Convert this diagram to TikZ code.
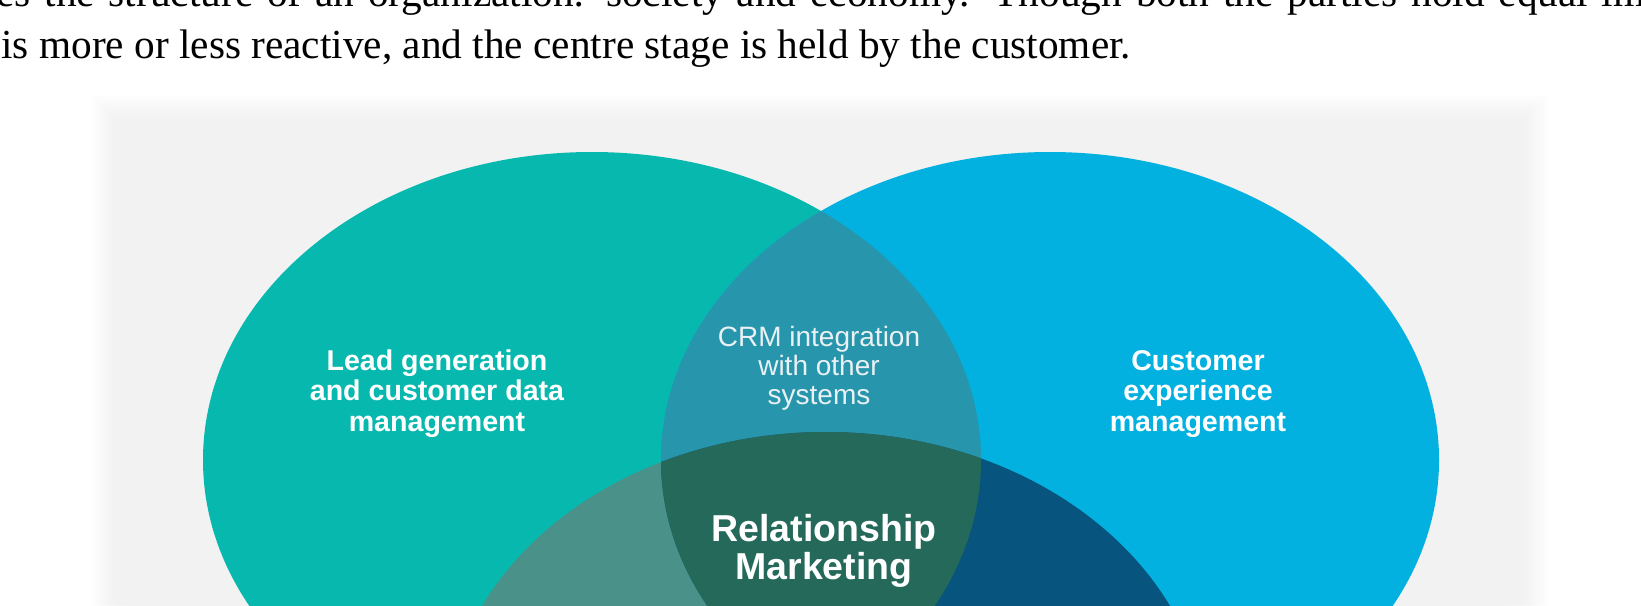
\documentclass[tikz,border=0pt]{standalone}
\usepackage{fontspec}
\setmainfont{Liberation Serif}
\newfontfamily\labelfont{Liberation Sans}
\definecolor{cPanel}{HTML}{F2F2F2}
\definecolor{cTeal}{HTML}{07B8AE}
\definecolor{cBlue}{HTML}{02B1E0}
\definecolor{cCrm}{HTML}{2795AC}
\definecolor{cBotTeal}{HTML}{4A9189}
\definecolor{cBotBlue}{HTML}{07547F}
\definecolor{cCentre}{HTML}{24695A}
\definecolor{cCrmText}{HTML}{E9F1F4}
\begin{document}
\begin{tikzpicture}[x=0.5pt,y=-0.5pt,
  bodytext/.style={anchor=base west, inner sep=0pt, text=black, font=\fontsize{20.65pt}{25pt}\selectfont},
  vennlabel/.style={anchor=base, inner sep=0pt, align=center, text=white, font=\labelfont\bfseries\fontsize{14.3pt}{15.2pt}\selectfont},
  crmlabel/.style={anchor=base, inner sep=0pt, align=center, text=cCrmText, font=\labelfont\fontsize{14pt}{14.5pt}\selectfont},
  mainlabel/.style={anchor=base, inner sep=0pt, align=center, text=white, font=\labelfont\bfseries\fontsize{18.75pt}{19pt}\selectfont}]
\useasboundingbox (0,0) rectangle (1641,605);
\clip (0,0) rectangle (1641,605);
\fill[white] (0,0) rectangle (1641,605);
% soft-edged grey panel
\foreach \t in {0,0.05,...,1.0}{
  \fill[cPanel, fill opacity=0.09] (92+38*\t,95+40*\t) rectangle (1548-43*\t,700);
}
\fill[cPanel] (130,135) rectangle (1505,700);
% Venn circles
\fill[cTeal] (592,460) ellipse [x radius=389, y radius=308];
\fill[cBlue] (1050,460) ellipse [x radius=389, y radius=308];
\begin{scope}
  \clip (592,460) ellipse [x radius=389, y radius=308];
  \fill[cCrm] (1050,460) ellipse [x radius=389, y radius=308];
\end{scope}
\begin{scope}
  \clip (826,740) ellipse [x radius=382, y radius=308];
  \fill[cBotTeal] (592,460) ellipse [x radius=389, y radius=308];
  \fill[cBotBlue] (1050,460) ellipse [x radius=389, y radius=308];
  \clip (592,460) ellipse [x radius=389, y radius=308];
  \fill[cCentre] (1050,460) ellipse [x radius=389, y radius=308];
\end{scope}
% labels (base anchor = baseline of the last line)
\node[vennlabel] (lead) at (437,431) {Lead generation\\and customer data\\management};
\node[vennlabel] (cxm) at (1198,431) {Customer\\experience\\management};
\node[crmlabel] (crm) at (819,404) {CRM integration\\with other\\systems};
\node[mainlabel] (rm) at (824,579) {Relationship\\Marketing};
% page text above the figure
\node[bodytext] (line1) at (-4,6.5) {\makebox[824.5pt][s]{es the structure of an organization: society and economy. Though both the parties hold equal im}};
\node[bodytext] (line2) at (1,58) {is more or less reactive, and the centre stage is held by the customer.};
\end{tikzpicture}
\end{document}
